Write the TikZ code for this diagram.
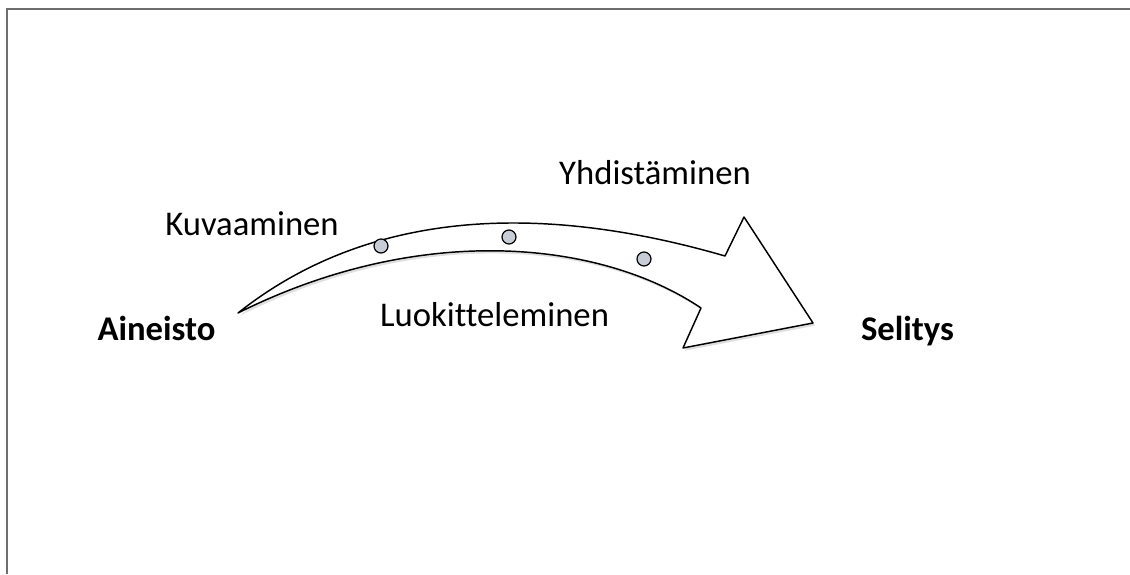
\documentclass[tikz,border=0pt]{standalone}
\usepackage{fontspec}
\setmainfont{Carlito}[Ligatures=NoCommon]
\usetikzlibrary{shadows}
\definecolor{framegray}{RGB}{110,110,110}
\definecolor{dotfill}{RGB}{200,204,214}
\begin{document}
\begin{tikzpicture}[x=0.75pt,y=-0.75pt,
  label/.style={font=\fontsize{26}{31}\selectfont, inner sep=0pt, anchor=base},
  stage/.style={label, font=\fontsize{26}{31}\selectfont\bfseries},
  dot/.style={circle, draw=black, fill=dotfill, line width=0.9pt, minimum size=10.5pt, inner sep=0pt}]
\useasboundingbox (0,0) rectangle (1130,574);
\draw[framegray, line width=1.8pt] (7,574) -- (7,9) -- (1130,9);
% curved arrow
\draw[line width=1.1pt, line join=round, fill=white,
  drop shadow={shadow xshift=1.5pt, shadow yshift=-2pt, opacity=0.25}]
  (238,313) .. controls (330,240) and (480,185) .. (725,256)
  -- (744,217) -- (813,323) -- (683,348) -- (701,308)
  .. controls (600,240) and (420,222) .. (238,313) -- cycle;
\node[dot] (d1) at (381,246) {};
\node[dot] (d2) at (509,237) {};
\node[dot] (d3) at (644,259) {};
% texts
\node[stage] (aineisto) at (156.5,340) {Aineisto};
\node[stage] (selitys) at (907.5,340) {Selitys};
\node[label] (kuvaaminen) at (252,235) {Kuvaaminen};
\node[label] (yhdistaminen) at (655,184) {Yhdistäminen};
\node[label] (luokittelu) at (494.5,326) {Luokitteleminen};
\end{tikzpicture}
\end{document}
